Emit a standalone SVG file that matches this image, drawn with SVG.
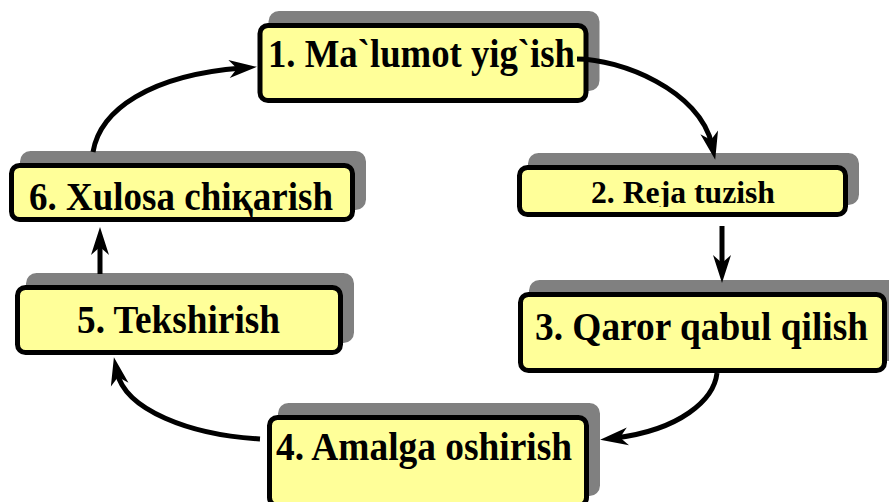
<svg xmlns="http://www.w3.org/2000/svg" width="889" height="502" viewBox="0 0 889 502">
<style>
.shadow{fill:#808080;stroke:#808080;stroke-width:5}
.box{fill:#FFFF99;stroke:#000;stroke-width:5}
.lbl{font-family:"Liberation Serif","Times New Roman",serif;font-weight:bold;font-size:39px;fill:#000;text-anchor:middle}
.conn{fill:none;stroke:#000;stroke-width:5}
</style>
<defs>
<marker id="arr" markerUnits="userSpaceOnUse" viewBox="-30 -12 32 24" markerWidth="32" markerHeight="24" refX="-15" refY="0" orient="auto">
<path d="M0,0 L-28,-9 L-20,0 L-28,9 Z" fill="#000"/>
</marker>
<clipPath id="c2"><rect x="519" y="160" width="330" height="47"/></clipPath>
</defs>
<rect width="889" height="502" fill="#fff"/>
<g id="node1">
<rect class="shadow" x="260" y="25.5" width="326" height="75" rx="8" transform="translate(11,-12)"/>
<rect class="box" x="260" y="25.5" width="326" height="75" rx="8"/>
<text class="lbl" x="421.5" y="67" textLength="307" lengthAdjust="spacingAndGlyphs">1. Ma`lumot yig`ish</text>
</g>
<g id="node2">
<rect class="shadow" x="519.5" y="167.5" width="326" height="47" rx="8" transform="translate(11,-12)"/>
<rect class="box" x="519.5" y="167.5" width="326" height="47" rx="8"/>
<text class="lbl" x="683" y="203" style="font-size:32px" textLength="184" lengthAdjust="spacingAndGlyphs" clip-path="url(#c2)">2. Reja tuzish</text>
</g>
<g id="node3">
<rect class="shadow" x="520.5" y="294.5" width="364" height="76" rx="8" transform="translate(11,-12)"/>
<rect class="box" x="520.5" y="294.5" width="364" height="76" rx="8"/>
<text class="lbl" x="701.5" y="340" textLength="333" lengthAdjust="spacingAndGlyphs">3. Qaror qabul qilish</text>
</g>
<g id="node4">
<rect class="shadow" x="269.5" y="417.5" width="317" height="88" rx="8" transform="translate(11,-12)"/>
<rect class="box" x="269.5" y="417.5" width="317" height="88" rx="8"/>
<text class="lbl" x="424" y="460" textLength="296" lengthAdjust="spacingAndGlyphs">4. Amalga oshirish</text>
</g>
<g id="node5">
<rect class="shadow" x="17.5" y="287.5" width="323" height="65" rx="8" transform="translate(11,-12)"/>
<rect class="box" x="17.5" y="287.5" width="323" height="65" rx="8"/>
<text class="lbl" x="178.5" y="333" textLength="203" lengthAdjust="spacingAndGlyphs">5. Tekshirish</text>
</g>
<g id="node6">
<rect class="shadow" x="11.5" y="165.5" width="341" height="54" rx="8" transform="translate(11,-12)"/>
<rect class="box" x="11.5" y="165.5" width="341" height="54" rx="8"/>
<text class="lbl" x="181" y="210" textLength="304" lengthAdjust="spacingAndGlyphs">6. Xulosa chiқarish</text>
</g>
<g id="connectors">
<path class="conn" d="M577,59 C620,59 700,90 712,145" marker-end="url(#arr)"/>
<path class="conn" d="M722,226 L722,268" marker-end="url(#arr)"/>
<path class="conn" d="M717,373 C714,400 680,430 615,438" marker-end="url(#arr)"/>
<path class="conn" d="M260,439 C190,435 125,410 117,372" marker-end="url(#arr)"/>
<path class="conn" d="M100,274 L100,242" marker-end="url(#arr)"/>
<path class="conn" d="M93,152 C100,110 150,75 242,68" marker-end="url(#arr)"/>
</g>
</svg>
